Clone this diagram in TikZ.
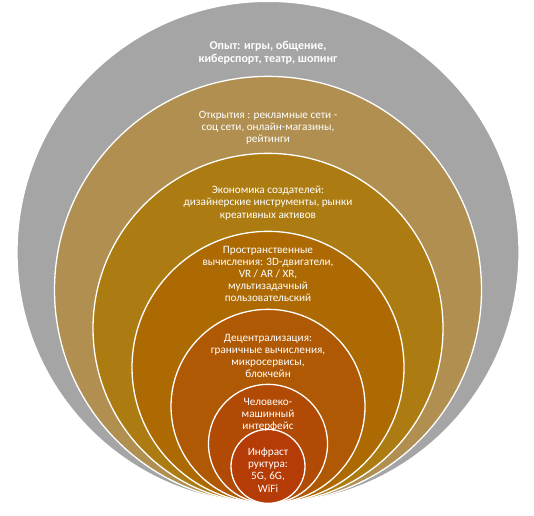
\documentclass[tikz,border=0pt]{standalone}
\usepackage{fontspec}
\setmainfont{Carlito}
\definecolor{cA}{HTML}{A5A5A5}
\definecolor{cB}{HTML}{B08F50}
\definecolor{cC}{HTML}{AC7C12}
\definecolor{cD}{HTML}{AD6A03}
\definecolor{cE}{HTML}{AF5904}
\definecolor{cF}{HTML}{B14A05}
\definecolor{cG}{HTML}{B53B07}
\begin{document}
\begin{tikzpicture}[x=1pt,y=1pt,
  ring/.style={circle,draw=white,line width=1.3pt,inner sep=0pt,anchor=south},
  lbl/.style={text=white,align=center,font=\fontsize{11.2}{12.2}\selectfont,inner sep=0pt}]
\useasboundingbox (0,0) rectangle (534,515);
\coordinate (base) at (268,11);
\node[ring,fill=cA,minimum size=502pt] (c1) at (base) {};
\node[ring,fill=cB,minimum size=427pt] (c2) at (base) {};
\node[ring,fill=cC,minimum size=350pt] (c3) at (base) {};
\node[ring,fill=cD,minimum size=272pt] (c4) at (base) {};
\node[ring,fill=cE,minimum size=194pt] (c5) at (base) {};
\node[ring,fill=cF,minimum size=119pt] (c6) at (base) {};
\node[ring,fill=cG,minimum size=74pt] (c7) at (base) {};
\node[lbl,font=\fontsize{12}{13}\selectfont\bfseries] (t1) at (268,462) {Опыт: игры, общение,\\киберспорт, театр, шопинг};
\node[lbl] (t2) at (268,387) {Открытия : рекламные сети -\\соц сети, онлайн-магазины,\\рейтинги};
\node[lbl] (t3) at (268,312) {Экономика создателей:\\дизайнерские инструменты, рынки\\креативных активов};
\node[lbl] (t4) at (268,241) {Пространственные\\вычисления: 3D-двигатели,\\VR / AR / XR,\\мультизадачный\\пользовательский};
\node[lbl] (t5) at (268,159) {Децентрализация:\\граничные вычисления,\\микросервисы,\\блокчейн};
\node[lbl] (t6) at (268,100) {Человеко-\\машинный\\интерфейс};
\node[lbl] (t7) at (268,45) {Инфраст\\руктура:\\5G, 6G,\\WiFi};
\end{tikzpicture}
\end{document}
